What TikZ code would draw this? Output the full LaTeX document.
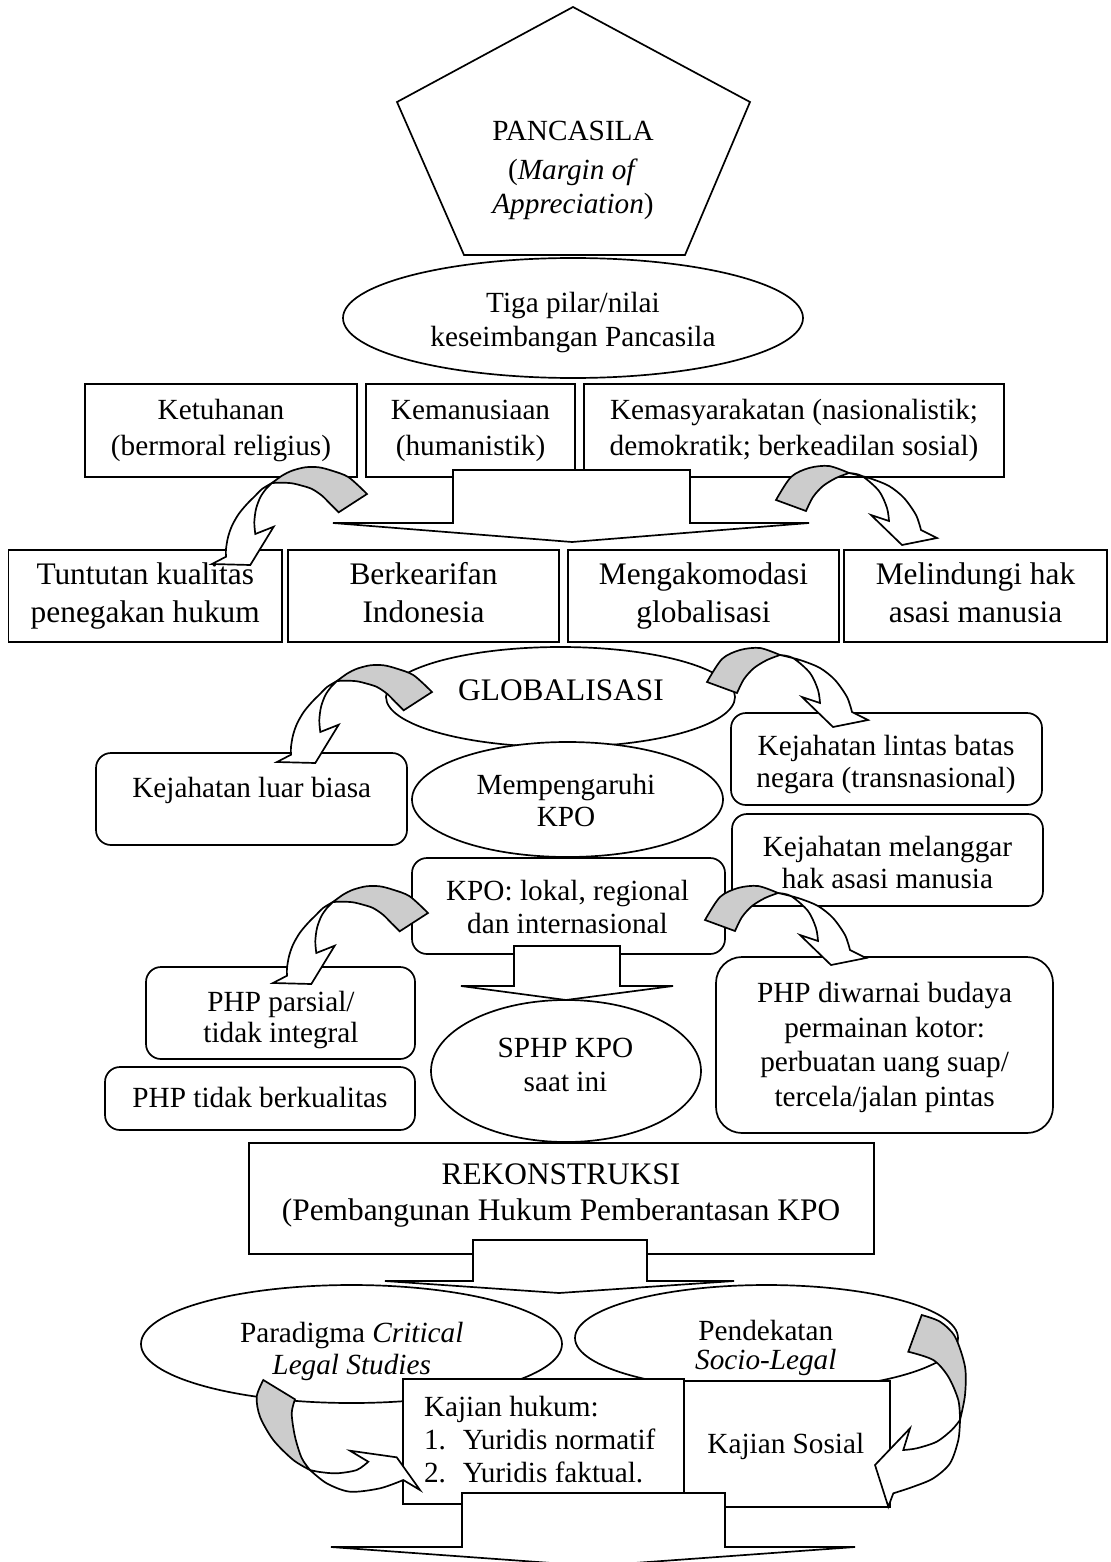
\documentclass[tikz,border=0pt]{standalone}
\usepackage{fontspec}
\setmainfont{Liberation Serif}
\usetikzlibrary{shapes.geometric}
% body text and the larger heading text, with a chosen line distance
\newcommand\fa[1]{\fontsize{20.8pt}{#1pt}\selectfont}
\newcommand\fb[1]{\fontsize{22.3pt}{#1pt}\selectfont}
% line break that keeps every line exactly one line distance high
\newcommand\nl{\\\strut}
\tikzset{
  % curved ribbon arrow: shaded back part on the right, head going down on the left
  leftcurve/.pic={
    \filldraw[fill=gray!40]
      plot[smooth] coordinates {(0,0) (10,-7.3) (20,-12.3) (33.3,-15.7) (46.7,-15.7) (60,-12.3) (76.7,-5.7) (95,11)}
      -- (66.7,29.3)
      -- plot[smooth] coordinates {(66.7,29.3) (58.3,21) (50,12.7) (40,6) (30,2.7) (20,0.3) (10,-0.3) (0,0)}
      -- cycle;
    \filldraw[fill=white]
      plot[smooth] coordinates {(0,0) (-10,6) (-16.7,12.7) (-25,21) (-33.3,31) (-40,42.7) (-44,54.3) (-46,66) (-46,73.7)}
      -- (-60,81) -- (-21.7,82) -- (1.7,43.7) -- (-16.7,51)
      -- plot[smooth] coordinates {(-16.7,51) (-17.7,39.3) (-16,26) (-11.7,14.3) (-6,6) (0,0)}
      -- cycle;
  },
  % the same ribbon arrow turned the other way: head going down on the right
  rightcurve/.pic={
    \filldraw[fill=gray!40]
      plot[smooth] coordinates {(0,0) (-20,-7) (-40,-5) (-58,4) (-73,27)}
      -- (-43,38)
      -- plot[smooth] coordinates {(-43,38) (-36,24) (-26,13) (-13,5) (0,0)}
      -- cycle;
    \filldraw[fill=white]
      plot[smooth] coordinates {(0,0) (20,5) (40,13) (55,25) (67,42) (72,57)}
      -- (88,65) -- (53,72) -- (22,42) -- (40,48)
      -- plot[smooth] coordinates {(40,48) (38,35) (30,18) (13,3) (0,0)}
      -- cycle;
  }
}
\begin{document}
\begin{tikzpicture}[x=0.025cm, y=-0.025cm, line width=1.2pt, line join=miter,
  every node/.style={inner sep=0pt, outer sep=0pt},
  wh/.style 2 args={minimum width=#1*0.025cm, minimum height=#2*0.025cm},
  box/.style={draw, fill=white, rectangle, align=center, font=\fa{24.9}},
  bigbox/.style={draw, fill=white, rectangle, align=center, font=\fb{27}},
  rbox/.style={draw, fill=white, rectangle, rounded corners=0.375cm},
  oval/.style={draw, fill=white, ellipse},
  txt/.style={align=center, font=\fa{#1}},
  txt/.default=24.2,
  barrow/.style={draw, fill=white}
]
\fill[white] (0,0) rectangle (1110,1562);
\useasboundingbox (0,0) rectangle (1110,1562);

% ---------- Pancasila ----------
\coordinate (pa) at (573,7);
\coordinate (pb) at (750,102);
\coordinate (pc) at (685,255);
\coordinate (pd) at (464,255);
\coordinate (pe) at (397,102);
\draw (pa) -- (pb) -- (pc) -- (pd) -- (pe) -- cycle;
\node[font=\fa{24.2}, anchor=base] (pancasila) at (573,141) {PANCASILA};
\node[txt=23.47] (margin) at (573,189.9) {\strut(\textit{Margin of}\nl\textit{Appreciation})};

\node[oval, wh={460}{120}] (tiga) at (573,318) {};
\node[txt=24.54] (tigatext) at (573,322.4) {\strut Tiga pilar/nilai\nl keseimbangan Pancasila};

% ---------- three values ----------
\node[box, wh={272}{93}] (ketuhanan) at (221,430.5) {\strut Ketuhanan\nl(bermoral religius)};
\node[box, wh={209}{93}] (kemanusiaan) at (470.5,430.5) {\strut Kemanusiaan\nl(humanistik)};
\node[box, wh={420}{93}] (kemasy) at (794,430.5) {\strut Kemasyarakatan (nasionalistik;\nl demokratik; berkeadilan sosial)};

\filldraw[barrow] (453,470) -- (690,470) -- (690,523) -- (809,523) -- (572,542) -- (333,523) -- (453,523) -- cycle;

% ---------- four aims ----------
\node[bigbox, wh={273.5}{92}] (tuntutan) at (145.25,596) {\strut Tuntutan kualitas\nl penegakan hukum};
\node[bigbox, wh={271}{92}] (kearifan) at (423.5,596) {\strut Berkearifan\nl Indonesia};
\node[bigbox, wh={271}{92}] (akomodasi) at (703.5,596) {\strut Mengakomodasi\nl globalisasi};
\node[bigbox, wh={263}{92}] (hakasasi) at (975.5,596) {\strut Melindungi hak\nl asasi manusia};

\pic at (272,483) {leftcurve};
\pic at (849,473) {rightcurve};

% ---------- globalisation ----------
\node[oval, wh={349}{100}] (global) at (560.5,697) {};
\node[font=\fb{27}, anchor=base] (globaltext) at (561,700) {GLOBALISASI};
\node[oval, wh={311}{115}] (pengaruh) at (567.5,799.5) {};
\node[txt=22.76] (pengaruhtext) at (566,804.1) {\strut Mempengaruhi\nl KPO};

\node[rbox, wh={311}{92}] (luarbiasa) at (251.5,799) {};
\node[txt] (luarbiasatext) at (251.7,790.7) {\strut Kejahatan luar biasa};
\node[rbox, wh={311}{92}] (lintas) at (886.5,759) {};
\node[txt=22.76] (lintastext) at (886,764.6) {\strut Kejahatan lintas batas\nl negara (transnasional)};
\node[rbox, wh={311}{92}] (langgar) at (887.5,860) {};
\node[txt=22.76] (langgartext) at (887.5,865.6) {\strut Kejahatan melanggar\nl hak asasi manusia};

\pic at (337,681) {leftcurve};
\pic at (780,655) {rightcurve};

% ---------- KPO ----------
\node[rbox, wh={313}{96}] (lokal) at (568.5,906) {};
\node[txt=23.47] (lokaltext) at (567.5,909.9) {\strut KPO: lokal, regional\nl dan internasional};

\filldraw[barrow] (514,946) -- (620,946) -- (620,986) -- (673,986) -- (566,1000) -- (461,986) -- (514,986) -- cycle;

\node[rbox, wh={269}{92}] (parsial) at (280.5,1013) {};
\node[txt=22.48] (parsialtext) at (281,1020.7) {\strut PHP parsial/\nl tidak integral};
\node[rbox, wh={310}{63}] (kualitas) at (260,1098.5) {};
\node[txt] (kualitastext) at (260,1101) {\strut PHP tidak berkualitas};
\node[oval, wh={270}{142}] (sphp) at (566,1071) {};
\node[txt=23.76] (sphptext) at (565.5,1067.8) {\strut SPHP KPO\nl saat ini};
\node[draw, fill=white, rectangle, rounded corners=0.65cm, wh={337}{176}] (kotor) at (884.5,1045) {};
\node[txt=24.54] (kotortext) at (884.6,1047.7) {\strut PHP diwarnai budaya\nl permainan kotor:\nl perbuatan uang suap/\nl tercela/jalan pintas};

\pic at (333,902) {leftcurve};
\pic at (778,893) {rightcurve};

% ---------- reconstruction ----------
\node[draw, fill=white, rectangle, wh={625}{111}] (rekon) at (561.5,1198.5) {};
\node[align=center, font=\fb{26.1}] (rekontext) at (561,1195) {\strut REKONSTRUKSI\nl(Pembangunan Hukum Pemberantasan KPO};

\filldraw[barrow] (473,1240) -- (647,1240) -- (647,1281) -- (734,1281) -- (559,1293) -- (385,1281) -- (473,1281) -- cycle;

\node[oval, wh={421}{118}] (cls) at (351.5,1344) {};
\node[txt=22.55] (clstext) at (351.7,1352.3) {\strut Paradigma \textit{Critical}\nl\textit{Legal Studies}};
\node[oval, wh={383}{106}] (socio) at (766.5,1338) {};
\node[txt=20.63] (sociotext) at (765.8,1348.7) {\strut Pendekatan\nl\textit{Socio-Legal}};

\node[draw, fill=white, rectangle, wh={206}{126}] (sosial) at (787,1444) {};
\node[draw, fill=white, rectangle, wh={281}{125}] (hukum) at (543.5,1441.5) {};
\node[align=left, anchor=west, font=\fa{23.4}] (hukumtext) at (424,1443)
  {\strut Kajian hukum:\nl\makebox[27.7pt][l]{1.}Yuridis normatif\nl\makebox[27.7pt][l]{2.}Yuridis faktual.};
\node[txt] (sosialtext) at (785.8,1446.5) {\strut Kajian Sosial};

\filldraw[barrow] (462,1493) -- (725,1493) -- (725,1547) -- (855,1547) -- (593,1566) -- (331,1547) -- (462,1547) -- cycle;

% ribbon arrow from the critical legal studies paradigm into the legal study
\filldraw[fill=gray!40]
  plot[smooth] coordinates {(310,1470) (293.3,1460) (273.3,1440) (260,1416.7) (256.7,1396.7) (263.3,1380)}
  -- (295,1399.3)
  -- plot[smooth] coordinates {(295,1399.3) (291.7,1413.3) (295,1436.7) (301.7,1458) (310,1470)}
  -- cycle;
\filldraw[fill=white]
  plot[smooth] coordinates {(310,1470) (326.7,1483.3) (350,1491.7) (380,1488.3) (403.3,1480)}
  -- (420,1490) -- (396.7,1457.3) -- (350,1450.7) -- (368.3,1461.7)
  -- plot[smooth] coordinates {(368.3,1461.7) (356.7,1470) (336.7,1473.3) (320,1472) (310,1470)}
  -- cycle;

% ribbon arrow from the socio-legal approach into the social study
\filldraw[fill=gray!40]
  plot[smooth] coordinates {(960,1420) (965,1395) (965,1366.7) (955,1336.7) (940,1321.7) (921.7,1315)}
  -- (908.3,1351.7)
  -- plot[smooth] coordinates {(908.3,1351.7) (933.3,1360) (948.3,1376.7) (958.3,1400) (960,1420)}
  -- cycle;
\filldraw[fill=white]
  plot[smooth] coordinates {(960,1420) (958.3,1440) (950,1463.3) (933.3,1478.3) (913.3,1486.7) (893.3,1493.3)}
  -- (888.3,1506.7) -- (875,1465) -- (910,1428.3) -- (903.3,1450)
  -- plot[smooth] coordinates {(903.3,1450) (916.7,1448.3) (936.7,1441.7) (951.7,1430) (960,1420)}
  -- cycle;
\end{tikzpicture}
\end{document}
